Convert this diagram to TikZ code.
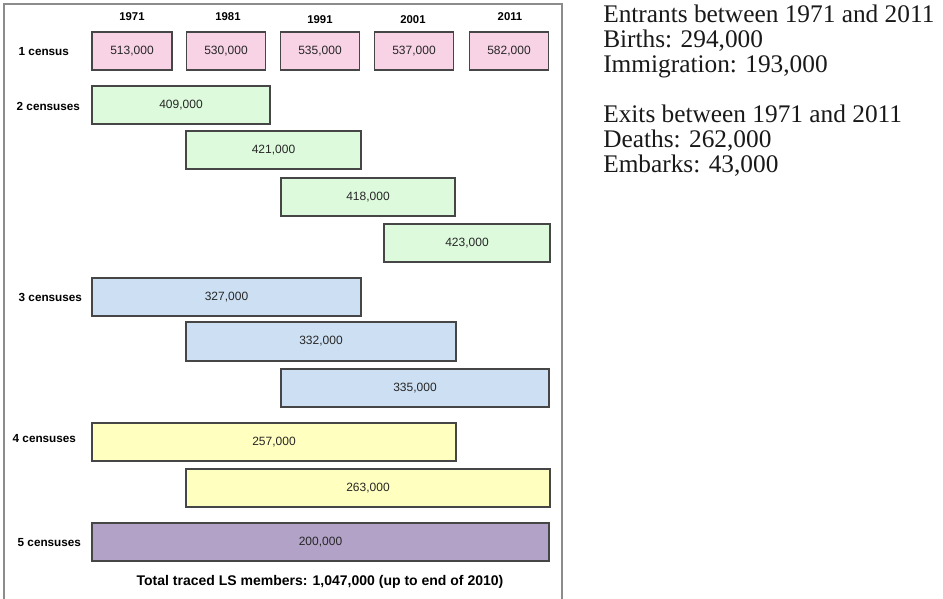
\documentclass[tikz,border=0pt]{standalone}
\usepackage{fontspec}
\setmainfont{Liberation Serif}
\newfontfamily\arialf{Liberation Sans}
\definecolor{pinkc}{RGB}{248,211,230}
\definecolor{greenc}{RGB}{221,250,221}
\definecolor{bluec}{RGB}{205,224,243}
\definecolor{yellowc}{RGB}{255,255,192}
\definecolor{purplec}{RGB}{178,162,200}
\definecolor{framec}{RGB}{140,140,140}
\definecolor{edgec}{RGB}{70,70,70}
\def\px{0.75pt}
\begin{document}
\begin{tikzpicture}[x=0.75pt,y=-0.75pt,
  bx/.style={draw=edgec, line width=0.8pt, inner sep=0pt, minimum height=38*\px, font=\arialf\fontsize{9}{10}\selectfont, text=black!85},
  yr/.style={font=\arialf\bfseries\fontsize{8.5}{10}\selectfont},
  lab/.style={anchor=west, font=\arialf\bfseries\fontsize{8.8}{10}\selectfont},
  rt/.style={anchor=base west, inner sep=0pt, font=\fontsize{19}{19}\selectfont, text=black!90}]
\useasboundingbox (0,0) rectangle (943,599);
\fill[white] (0,0) rectangle (943,599);
% frame
\draw[framec, line width=1.1pt] (4,605) -- (4,4) -- (562,4) -- (562,605);
% years
\node[yr] (y1971) at (132,17) {1971};
\node[yr] (y1981) at (228,17) {1981};
\node[yr] (y1991) at (320,20) {1991};
\node[yr] (y2001) at (413,20) {2001};
\node[yr] (y2011) at (510,17) {2011};
% row labels
\node[lab] (l1) at (14,52) {1 census};
\node[lab] (l2) at (12,106) {2 censuses};
\node[lab] (l3) at (14,297) {3 censuses};
\node[lab] (l4) at (8,439) {4 censuses};
\node[lab] (l5) at (13,543) {5 censuses};
% 1 census
\node[bx, fill=pinkc, minimum width=80*\px] (b513) at (132,51) {513,000};
\node[bx, fill=pinkc, minimum width=79*\px] (b530) at (226,51) {530,000};
\node[bx, fill=pinkc, minimum width=79*\px] (b535) at (320,51) {535,000};
\node[bx, fill=pinkc, minimum width=79*\px] (b537) at (414,51) {537,000};
\node[bx, fill=pinkc, minimum width=79*\px] (b582) at (509,51) {582,000};
% 2 censuses
\node[bx, fill=greenc, minimum width=178*\px] (b409) at (181,105) {409,000};
\node[bx, fill=greenc, minimum width=175*\px] (b421) at (273.5,150) {421,000};
\node[bx, fill=greenc, minimum width=174*\px] (b418) at (368,197) {418,000};
\node[bx, fill=greenc, minimum width=166*\px] (b423) at (467,243) {423,000};
% 3 censuses
\node[bx, fill=bluec, minimum width=269*\px] (b327) at (226.5,297) {327,000};
\node[bx, fill=bluec, minimum width=270*\px, minimum height=39*\px] (b332) at (321,341.5) {332,000};
\node[bx, fill=bluec, minimum width=268*\px] (b335) at (415,388) {335,000};
% 4 censuses
\node[bx, fill=yellowc, minimum width=364*\px] (b257) at (274,442) {257,000};
\node[bx, fill=yellowc, minimum width=364*\px] (b263) at (368,488) {263,000};
% 5 censuses
\node[bx, fill=purplec, minimum width=457*\px] (b200) at (320.5,542) {200,000};
% total
\node[font=\arialf\bfseries\fontsize{10.5}{12}\selectfont] (total) at (320,582) {Total traced LS members: 1,047,000 (up to end of 2010)};
% right-hand text
\node[rt] (t1) at (603,23) {Entrants between 1971 and 2011};
\node[rt] (t2) at (603,48) {Births: 294,000};
\node[rt] (t3) at (603,73) {Immigration: 193,000};
\node[rt] (t4) at (603,123) {Exits between 1971 and 2011};
\node[rt] (t5) at (603,148) {Deaths: 262,000};
\node[rt] (t6) at (603,173) {Embarks: 43,000};
\end{tikzpicture}
\end{document}
